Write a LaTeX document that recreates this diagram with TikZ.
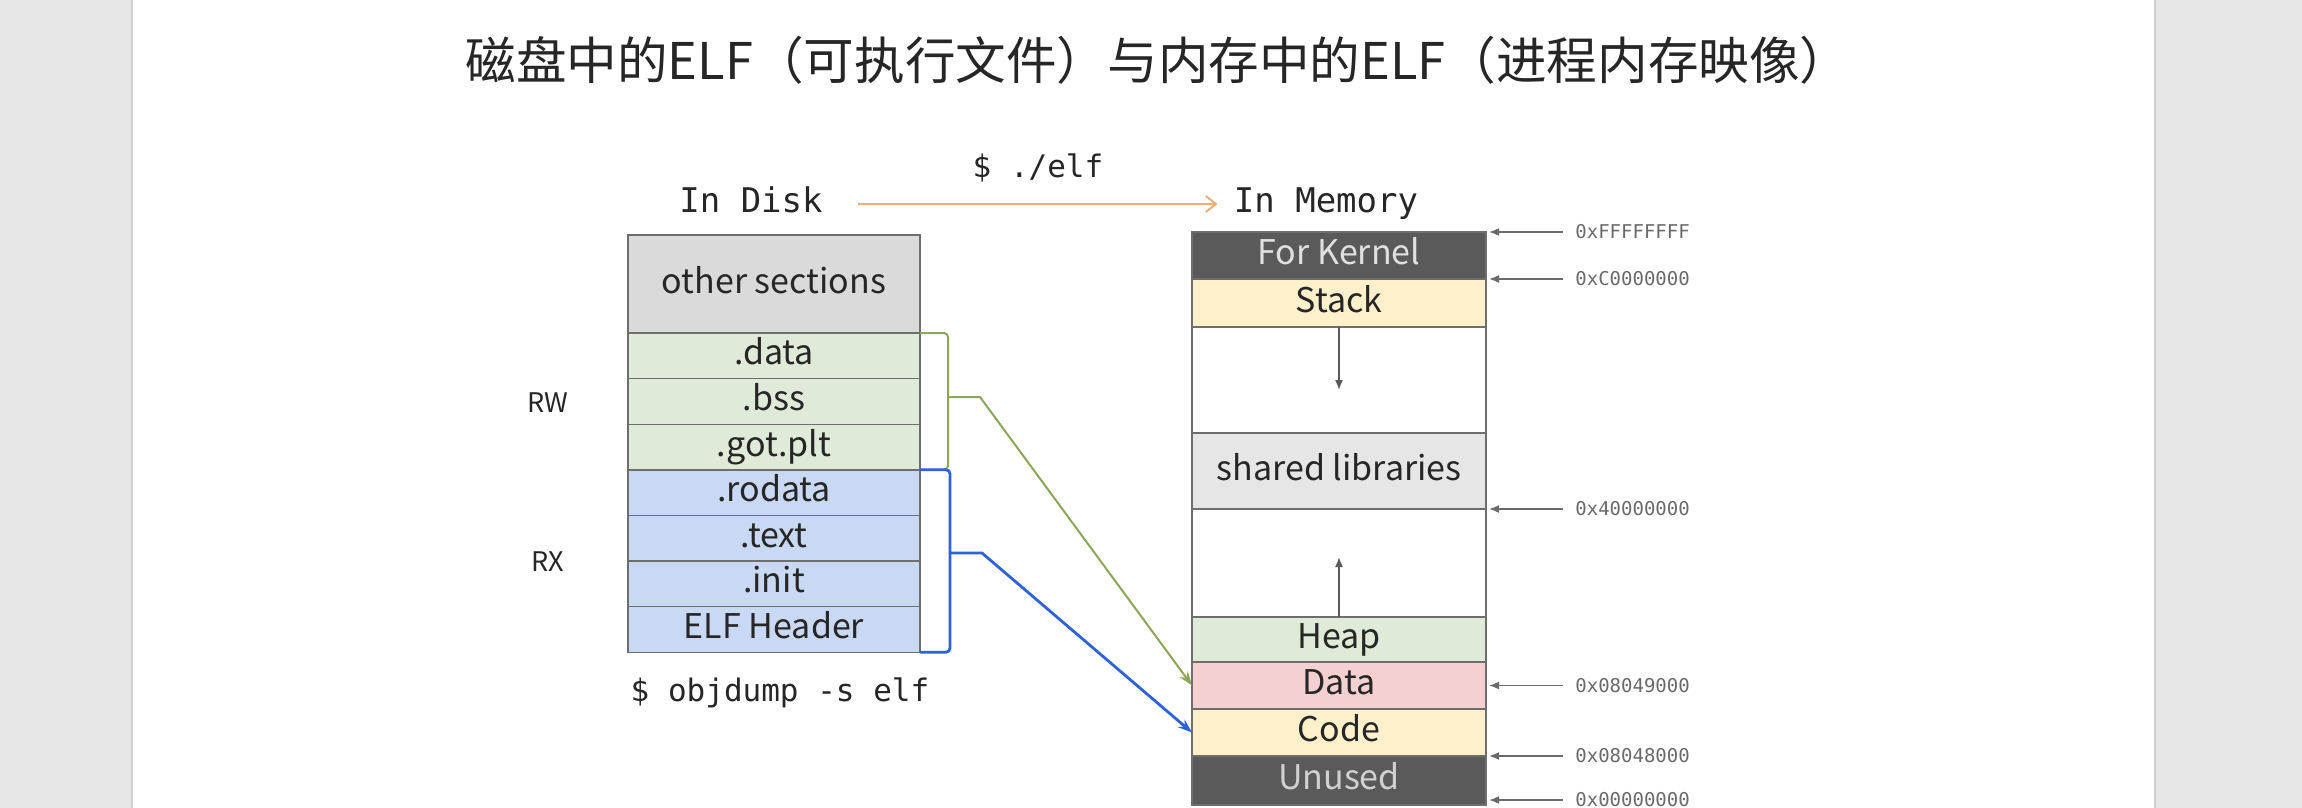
\documentclass[tikz,border=0pt]{standalone}
\usepackage{fontspec}
\usepackage{xcolor}
\usepackage{tikz}
\usetikzlibrary{backgrounds,arrows.meta,positioning}
\setmainfont{Noto Sans CJK SC}
\newfontfamily\codefont{DejaVu Sans Mono}
\definecolor{mmPage}{HTML}{E6E6E6}
\definecolor{mmPageLine}{HTML}{CFCFCF}
\definecolor{mmEdge}{HTML}{6E6E6E}
\definecolor{mmInk}{HTML}{262626}
\definecolor{mmDark}{HTML}{5A5A5A}
\definecolor{mmOther}{HTML}{DADADA}
\definecolor{mmShared}{HTML}{E6E6E6}
\definecolor{mmGreen}{HTML}{E0EAD8}
\definecolor{mmBlue}{HTML}{CAD9F3}
\definecolor{mmYellow}{HTML}{FDF0CB}
\definecolor{mmPink}{HTML}{F5D0D0}
\definecolor{mmOlive}{HTML}{8CA65A}
\definecolor{mmRoyal}{HTML}{2F62D4}
\definecolor{mmOrange}{HTML}{F2AE7A}
\definecolor{mmAddr}{HTML}{6A6A6A}
\newcommand{\fs}[1]{\fontsize{#1}{1.2\dimexpr#1\relax}\selectfont}

\begin{document}
\begin{tikzpicture}[
  x=0.5pt, y=-0.5pt,
  title/.style={font=\fs{25.3pt}, text=mmInk, inner sep=0pt},
  cmd/.style={font=\codefont\fs{15.5pt}, text=mmInk, inner sep=0pt},
  side/.style={font=\codefont\fs{17pt}, text=mmInk, inner sep=0pt, text height=12.5pt, text depth=3.5pt},
  perm/.style={font=\fs{13.5pt}, text=mmInk, inner sep=0pt},
  sect/.style={draw=mmEdge, line width=0.7pt, text=mmInk, font=\fs{17pt},
               minimum width=146pt, inner sep=0pt, outer sep=0pt,
               text height=12pt, text depth=3pt},
  dsec/.style={sect, minimum height=22.8pt},
  mrow/.style={sect, minimum width=147pt},
  addr/.style={font=\codefont\fs{9.5pt}, text=mmAddr, inner sep=0pt, anchor=west},
  addrarr/.style={-{Latex[length=5pt,width=4pt]}, line width=0.8pt, draw=mmAddr},
  growarr/.style={-{Latex[length=5pt,width=4pt]}, line width=0.8pt, draw=mmDark},
  run/.style={-{Straight Barb[length=5pt,width=8pt]}, line width=1pt, draw=mmOrange},
  rwbr/.style={line width=1pt, draw=mmOlive, rounded corners=2pt},
  rxbr/.style={line width=1.4pt, draw=mmRoyal, rounded corners=2pt},
]
\useasboundingbox (0,0) rectangle (2302,808);

% ── page ─────────────────────────────────────────────────────────────────────
\fill[white] (0,0) rectangle (2302,808);
\fill[mmPage] (0,0) rectangle (132,808);
\fill[mmPage] (2155,0) rectangle (2302,808);
\draw[mmPageLine, line width=0.6pt] (132,0) -- (132,808);
\draw[mmPageLine, line width=0.6pt] (2155,0) -- (2155,808);

\node[title] (ttl) at (1158,60) {磁盘中的ELF（可执行文件）与内存中的ELF（进程内存映像）};

% ── headings ─────────────────────────────────────────────────────────────────
\node[side] (indisk) at (751,204) {In Disk};
\node[side] (inmem)  at (1326,204) {In Memory};
\node[cmd]  (runcmd) at (1038,168) {\$ ./elf};
\draw[run, shorten <=17.5pt, shorten >=8pt] (indisk.east) -- (inmem.west);

% ── ELF file on disk ─────────────────────────────────────────────────────────
\node[sect, fill=mmOther, minimum height=49pt] (sother) at (774,284) {other sections};
\node[dsec, fill=mmGreen] (sdata) at (774,355.8) {.data};
\node[dsec, fill=mmGreen] (sbss)  at (774,401.4) {.bss};
\node[dsec, fill=mmGreen] (sgot)  at (774,447.0) {.got.plt};
\node[dsec, fill=mmBlue]  (srod)  at (774,492.6) {.rodata};
\node[dsec, fill=mmBlue]  (stext) at (774,538.2) {.text};
\node[dsec, fill=mmBlue]  (sinit) at (774,583.8) {.init};
\node[dsec, fill=mmBlue]  (shdr)  at (774,629.4) {ELF Header};

\node[perm] (prw) at (548,403) {RW};
\node[perm] (prx) at (548,562) {RX};
\node[cmd]  (dump) at (780,693) {\$ objdump -s elf};

% ── process image in memory ──────────────────────────────────────────────────
\node[mrow, fill=mmDark, text=white!88!black, minimum height=23.5pt] (kern)   at (1339,255.5) {For Kernel};
\node[mrow, fill=mmYellow, minimum height=24pt]  (stack)  at (1339,303)   {Stack};
\node[mrow, fill=white, minimum height=53pt]     (gapa)   at (1339,380)   {};
\node[mrow, fill=mmShared, minimum height=38pt]  (shlib)  at (1339,471)   {shared libraries};
\node[mrow, fill=white, minimum height=54pt]     (gapb)   at (1339,563)   {};
\node[mrow, fill=mmGreen, minimum height=22.5pt] (heap)   at (1339,639.5) {Heap};
\node[mrow, fill=mmPink, minimum height=23.5pt]  (mdata)  at (1339,685.5) {Data};
\node[mrow, fill=mmYellow, minimum height=23.5pt] (code)  at (1339,732.5) {Code};
\node[mrow, fill=mmDark, text=white!82!black, minimum height=24.5pt] (unused) at (1339,780.5) {Unused};

\draw[growarr] (stack.south) -- ++(0,-31.5pt);
\draw[growarr] (heap.north) -- ++(0,30pt);

% ── addresses ────────────────────────────────────────────────────────────────
\node[addr, right=44.5pt of kern.north east]   (aff) {0xFFFFFFFF};
\node[addr, right=44.5pt of kern.south east]   (ac0) {0xC0000000};
\node[addr, right=44.5pt of shlib.south east]  (a40) {0x40000000};
\node[addr, right=44.5pt of mdata.east]        (a49) {0x08049000};
\node[addr, right=44.5pt of code.south east]   (a48) {0x08048000};
\node[addr, right=44.5pt of unused.south east, yshift=2.5pt] (a00) {0x00000000};

\draw[addrarr] ([xshift=-6pt]aff.west) -- ([xshift=1.5pt]kern.north east);
\draw[addrarr] ([xshift=-6pt]ac0.west) -- ([xshift=1.5pt]kern.south east);
\draw[addrarr] ([xshift=-6pt]a40.west) -- ([xshift=1.5pt]shlib.south east);
\draw[addrarr] ([xshift=-6pt]a49.west) -- ([xshift=1.5pt]mdata.east);
\draw[addrarr] ([xshift=-6pt]a48.west) -- ([xshift=1.5pt]code.south east);
\draw[addrarr] ([xshift=-6pt]a00.west) -- ([xshift=1.5pt]unused.east |- a00.west);

% ── segments: RW -> Data, RX -> Code ──────────────────────────────────────────
\coordinate (rwk) at (948,397);
\coordinate (rwt) at (980,397);
\coordinate (rxk) at (950,553);
\coordinate (rxt) at (982,553);
\draw[rwbr] (sdata.north east) -- ++(14pt,0) |- (sgot.south east);
\draw[rxbr] (srod.north east) -- ++(15pt,0) |- (shdr.south east);
\draw[rwbr, -{Stealth[length=7pt,width=5pt]}, rounded corners=0pt] (rwk) -- (rwt) -- (mdata.west);
\draw[rxbr, -{Stealth[length=7pt,width=5pt]}, rounded corners=0pt] (rxk) -- (rxt) -- (code.west);

\end{tikzpicture}
\end{document}
